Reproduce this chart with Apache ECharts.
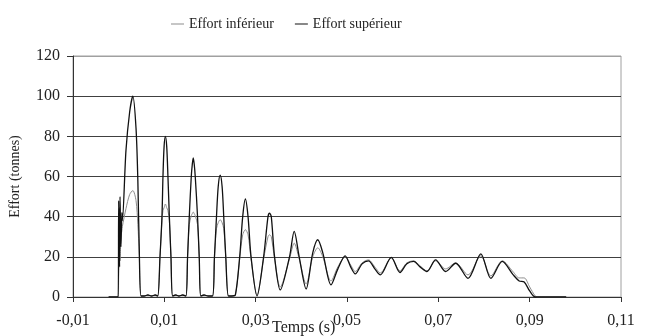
<!DOCTYPE html>
<html>
<head>
<meta charset="utf-8">
<script src="https://cdn.jsdelivr.net/npm/echarts@6/dist/echarts.min.js"></script>
<style>
  html, body { margin: 0; padding: 0; background: #fff; }
  #chart { width: 645px; height: 336px; }
</style>
</head>
<body>
<div id="chart"></div>
<script>
// temps (s)
var temps = [
  -0.0022, -0.0001, 0.0000, 0.0002, 0.0003, 0.0005, 0.0007, 0.0008, 0.0016, 0.0024,
  0.0031, 0.0038, 0.0042, 0.0045, 0.0049, 0.0056, 0.0064, 0.0072, 0.0080, 0.00855,
  0.00905, 0.00948, 0.0097, 0.00995, 0.01023, 0.01052, 0.01079, 0.0111, 0.01145, 0.01182,
  0.0125, 0.0132, 0.0140, 0.01472, 0.01509, 0.01546, 0.0159, 0.01612, 0.01633, 0.01655,
  0.01677, 0.01727, 0.01764, 0.01799, 0.0187, 0.0196, 0.02055, 0.02098, 0.02142, 0.0218,
  0.02223, 0.02265, 0.02301, 0.02345, 0.02404, 0.0248, 0.02556, 0.0265, 0.02716, 0.02775,
  0.02833, 0.02899, 0.0303, 0.03174, 0.0327, 0.03305, 0.03342, 0.03414, 0.03538, 0.03741,
  0.03844, 0.03953, 0.04105, 0.0425, 0.0436, 0.0447, 0.0465, 0.0480, 0.0496, 0.0508,
  0.0518, 0.0533, 0.0547, 0.0561, 0.0573, 0.0597, 0.0616, 0.0631, 0.0646, 0.0660,
  0.0675, 0.0694, 0.0716, 0.0738, 0.0765, 0.0793, 0.0815, 0.0840, 0.0864, 0.0877,
  0.0888, 0.0900, 0.0912, 0.0917, 0.0980
];

var effortSup = [
  0, 0, 48, 15, 50, 25, 42, 38, 73, 92,
  100, 84, 58, 25, 0.5, 0.5, 1, 0.5, 1, 0.5,
  20, 40, 60, 75, 80, 75, 60, 40, 20, 0.5,
  1, 0.5, 1, 0.5, 20, 40, 60, 66, 69.3, 66,
  60, 40, 20, 0.5, 1, 0.5, 0.5, 20, 40, 55,
  60.7, 55, 40, 20, 0.5, 0.5, 1, 20, 40, 48.8,
  40, 20, 0.5, 20, 40, 41.8, 40, 20, 3.5, 20,
  32.7, 20, 4, 22, 28.5, 22, 6, 14, 20.5, 15,
  11.5, 16.5, 18, 14, 11, 19.7, 12.2, 16.5, 17.7, 15,
  12.7, 18.5, 12.7, 16.8, 9.3, 21.5, 9.3, 17.7, 11, 8,
  7.5, 3, 0, 0, 0
];

var effortInf = [
  0, 0, 10, 22, 18, 30, 33, 35, 44, 51,
  53, 48, 36, 22, 0.5, 0.5, 1, 0.5, 1, 0.5,
  20, 38, 43, 44.5, 46.3, 44.5, 43, 38, 20, 0.5,
  1, 0.5, 1, 0.5, 20, 36, 40.5, 41.5, 42.3, 41.5,
  40.5, 36, 20, 0.5, 1, 0.5, 0.5, 20, 34, 37,
  38.5, 37, 34, 20, 0.5, 0.5, 1, 19, 31, 33.5,
  31, 19, 1, 19, 30, 31, 30, 19, 5, 19,
  26.8, 19, 6.5, 20, 24.5, 20, 8, 15, 20, 16,
  12.7, 17, 18.5, 15, 12, 19.5, 13, 17, 18, 15.5,
  13, 18, 14, 17, 11, 20.5, 10.5, 18, 12.5, 9.5,
  9.5, 5, 0.5, 0, 0
];

var xMin = -0.01, xMax = 0.11, xStep = 0.02;
var yMin = 0, yMax = 120, yStep = 20;

function paires (vals) {
  var out = []
  for (var i = 0; i < temps.length; i++) {
    out.push([temps[i], vals[i]])
  }
  return out
}

var police = 'Liberation Serif, Times New Roman, serif'
var chart = echarts.init(document.getElementById('chart'))

chart.setOption({
  animation: false,
  textStyle: { fontFamily: police },
  title: {
    text: 'Temps (s)',
    left: 272,
    top: 320,
    padding: 0,
    textStyle: { fontFamily: police, fontSize: 16, fontWeight: 'normal', color: '#222' }
  },
  legend: {
    left: 166,
    top: 12,
    icon: 'rect',
    itemWidth: 13,
    itemHeight: 1,
    itemGap: 21,
    textStyle: { fontFamily: police, fontSize: 14, color: '#222' },
    data: ['Effort inférieur', 'Effort supérieur']
  },
  grid: {
    left: 70,
    right: 24,
    top: 56,
    bottom: 39,
    show: true,
    borderColor: '#a0a0a0',
    borderWidth: 1
  },
  xAxis: {
    type: 'value',
    min: xMin,
    max: xMax,
    interval: xStep,
    axisLine: { onZero: false, lineStyle: { color: '#333', width: 1 } },
    axisTick: { show: true, length: 5, lineStyle: { color: '#333' } },
    splitLine: { show: false },
    axisLabel: {
      margin: 16,
      fontSize: 16,
      color: '#222',
      fontFamily: police,
      formatter: function (v) {
        return v.toFixed(2).replace('.', ',')
      }
    }
  },
  yAxis: {
    type: 'value',
    min: yMin,
    max: yMax,
    interval: yStep,
    name: 'Effort (tonnes)',
    nameLocation: 'middle',
    nameGap: 51,
    nameTextStyle: { fontFamily: police, fontSize: 14, color: '#222' },
    axisLine: { show: true, onZero: false, lineStyle: { color: '#333', width: 1 } },
    axisTick: { show: true, length: 6, lineStyle: { color: '#333' } },
    splitLine: {
      show: true,
      lineStyle: {
        color: ['#404040', '#404040', '#404040', '#404040', '#404040', '#404040', '#a0a0a0'],
        width: 1
      }
    },
    axisLabel: { margin: 13, fontSize: 16, color: '#222', fontFamily: police }
  },
  series: [
    {
      name: 'Effort inférieur',
      type: 'line',
      smooth: 0.3,
      showSymbol: false,
      lineStyle: { color: '#8c8c8c', width: 1 },
      itemStyle: { color: '#8c8c8c' },
      data: paires(effortInf)
    },
    {
      name: 'Effort supérieur',
      type: 'line',
      smooth: 0.3,
      showSymbol: false,
      lineStyle: { color: '#111', width: 1.3 },
      itemStyle: { color: '#111' },
      data: paires(effortSup)
    }
  ]
})
</script>
</body>
</html>
